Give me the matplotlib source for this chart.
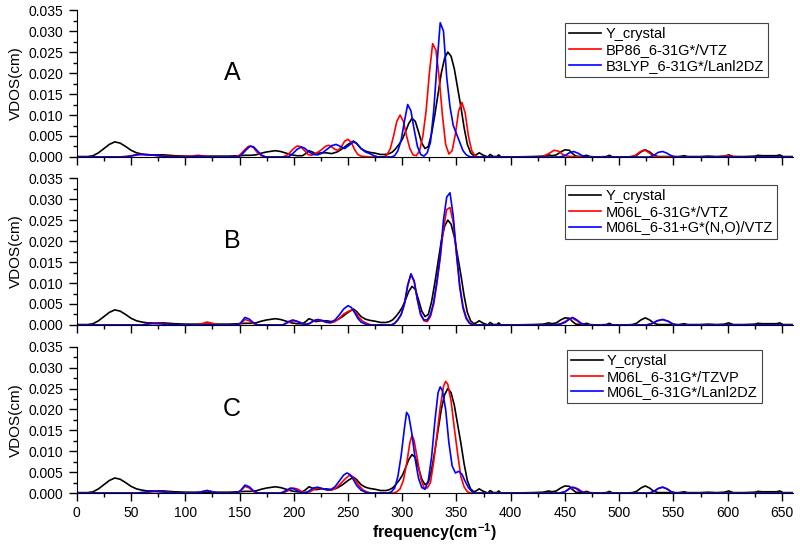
import numpy as np
import matplotlib
matplotlib.use('Agg')
import matplotlib.pyplot as plt
from matplotlib.ticker import MultipleLocator, FormatStrFormatter

plt.rcParams['font.family'] = ['Liberation Sans', 'DejaVu Sans']
plt.rcParams['mathtext.default'] = 'regular'

# VDOS values, in units of 1e-3 cm
# Y_crystal (same curve in all three panels)
crystal_f = [0, 10, 15, 20, 25, 30, 35, 40, 45, 50, 55, 60, 65, 70, 75, 80, 85, 90, 100, 110, 120, 130, 140,
             150, 155, 160, 165, 170, 175, 180, 183, 188, 193, 198, 203, 208, 211, 214, 217, 220, 225, 230,
             235, 240, 245, 250, 255, 258, 262, 266, 270, 275, 280, 285, 288, 291, 294, 297, 300, 303, 306,
             309, 312, 315, 318, 321, 324, 327, 330, 333, 336, 339, 342, 345, 348, 351, 354, 357, 360, 363,
             366, 368, 371, 374, 377, 379, 381, 384, 387, 389, 391, 400, 420, 430, 435, 438, 442, 446, 450,
             454, 457, 460, 465, 470, 473, 480, 488, 491, 494, 505, 512, 516, 520, 524, 528, 532, 536, 545,
             555, 560, 563, 575, 582, 590, 597, 601, 605, 615, 625, 628, 632, 640, 645, 648, 651, 660]
crystal_v = [0.1, 0.1, 0.3, 1.0, 2.0, 3.0, 3.6, 3.3, 2.5, 1.6, 1.0, 0.7, 0.5, 0.5, 0.5, 0.5, 0.4, 0.3, 0.2, 0.2,
             0.2, 0.2, 0.2, 0.3, 0.4, 0.4, 0.5, 0.9, 1.2, 1.4, 1.5, 1.3, 0.9, 0.5, 0.3, 0.3, 0.8, 1.5, 1.2,
             0.8, 1.0, 1.0, 0.8, 1.2, 2.0, 3.0, 3.8, 3.2, 2.0, 1.4, 1.1, 0.9, 0.6, 0.6, 0.8, 1.2, 2.0, 3.0,
             4.2, 6.0, 8.0, 9.2, 8.5, 6.0, 3.3, 2.0, 2.5, 5.5, 10.0, 15.0, 20.0, 23.5, 25.0, 24.0, 21.0, 16.5,
             12.0, 7.0, 3.0, 1.0, 0.3, 0.5, 1.0, 0.5, 0.2, 0.0, 0.6, 0.1, 0.1, 0.5, 0.0, 0.0, 0.1, 0.2, 0.5,
             0.3, 0.5, 1.2, 1.7, 1.6, 0.8, 0.2, 0.1, 0.4, 0.1, 0.0, 0.1, 0.4, 0.0, 0.0, 0.1, 0.4, 1.2, 1.7,
             1.2, 0.4, 0.1, 0.1, 0.1, 0.3, 0.1, 0.1, 0.2, 0.1, 0.2, 0.5, 0.1, 0.1, 0.2, 0.4, 0.3, 0.3, 0.3,
             0.5, 0.1, 0.1]

# panel A
bp86_f = [0, 40, 50, 55, 65, 75, 85, 100, 108, 112, 118, 125, 145, 150, 154, 158, 160, 163, 166, 170, 175,
          190, 195, 199, 203, 206, 210, 213, 216, 220, 225, 229, 232, 235, 238, 241, 244, 247, 250, 253, 256,
          259, 262, 270, 283, 286, 289, 292, 295, 298, 301, 304, 307, 310, 313, 316, 319, 322, 325, 328, 331,
          334, 337, 340, 343, 346, 349, 352, 355, 358, 361, 364, 367, 370, 425, 430, 435, 440, 444, 448, 452,
          456, 465, 510, 515, 519, 523, 527, 531, 535, 590, 595, 600, 605, 615, 660]
bp86_v = [0, 0, 0.3, 0.6, 0.6, 0.3, 0.1, 0.1, 0.3, 0.4, 0.2, 0, 0, 0.4, 1.5, 2.5, 2.6, 2.2, 1.2, 0.3, 0,
          0, 0.6, 1.8, 2.6, 2.5, 1.5, 0.6, 0.4, 0.8, 1.6, 2.5, 2.8, 2.4, 1.8, 1.6, 2.5, 3.8, 4.2, 3.5, 1.8,
          0.6, 0.2, 0, 0, 0.5, 2.0, 5.0, 8.5, 10.0, 8.5, 5.0, 2.0, 0.5, 0.3, 1.5, 5.0, 11.0, 20.0, 27.0, 25.5,
          19.0, 10.0, 3.0, 0.7, 1.5, 5.5, 11.0, 13.0, 10.5, 5.0, 1.5, 0.3, 0, 0, 0.2, 0.8, 1.6, 1.4, 0.6, 0.2,
          0.1, 0, 0, 0.4, 1.2, 1.7, 1.1, 0.3, 0, 0, 0.1, 0.3, 0.1, 0, 0]

b3lyp_f = [0, 45, 52, 58, 68, 76, 85, 105, 110, 115, 120, 148, 152, 156, 160, 163, 166, 170, 174, 195, 199,
           203, 207, 210, 214, 218, 222, 226, 231, 235, 239, 243, 247, 251, 255, 258, 262, 266, 270, 274, 278,
           290, 293, 296, 299, 302, 305, 308, 311, 314, 317, 320, 323, 326, 329, 332, 335, 338, 341, 344, 347,
           350, 353, 356, 359, 362, 365, 445, 450, 454, 458, 462, 466, 470, 528, 532, 536, 540, 544, 548, 552, 660]
b3lyp_v = [0, 0, 0.3, 0.6, 0.5, 0.3, 0, 0, 0.2, 0.2, 0, 0, 0.5, 1.7, 2.6, 2.4, 1.6, 0.5, 0, 0, 0.8, 1.8,
           2.4, 2.1, 1.2, 0.6, 0.5, 0.9, 1.9, 2.7, 3.0, 2.5, 2.0, 2.8, 3.6, 3.2, 2.0, 1.2, 0.8, 0.3, 0,
           0, 0.3, 1.5, 4.0, 8.5, 12.5, 11.0, 6.5, 2.5, 0.6, 0.2, 1.0, 3.5, 11.0, 22.0, 32.0, 30.0, 19.0,
           12.0, 7.5, 5.5, 3.5, 1.5, 0.5, 0.1, 0, 0, 0.3, 1.0, 1.3, 0.9, 0.3, 0, 0, 0.4, 1.1, 1.3, 0.9, 0.3,
           0, 0]

# panel B
m06l_vtz_f = [0, 60, 66, 72, 78, 85, 95, 110, 115, 120, 125, 130, 148, 152, 155, 159, 163, 167, 190, 195,
              200, 205, 210, 214, 218, 222, 226, 230, 234, 238, 242, 246, 250, 254, 257, 260, 264, 268, 272,
              290, 293, 296, 299, 302, 305, 308, 311, 314, 317, 320, 323, 326, 329, 332, 335, 338, 341, 344,
              347, 350, 353, 356, 359, 362, 365, 368, 440, 445, 450, 454, 457, 461, 465, 470, 525, 530, 535,
              540, 545, 549, 553, 660]
m06l_vtz_v = [0, 0, 0.3, 0.5, 0.4, 0.1, 0, 0, 0.3, 0.7, 0.4, 0, 0, 0.5, 1.3, 1.0, 0.3, 0, 0, 0.6, 1.0, 0.7,
              0.2, 0.3, 0.9, 1.2, 1.0, 0.6, 0.5, 0.8, 1.6, 2.6, 3.2, 3.6, 3.0, 1.8, 0.8, 0.3, 0,
              0, 0.4, 1.2, 2.5, 5.0, 9.3, 12.0, 10.3, 6.0, 2.5, 1.0, 0.8, 2.0, 5.0, 10.0, 16.0, 23.0, 27.5,
              28.0, 24.5, 17.0, 9.5, 4.5, 1.8, 0.5, 0.1, 0, 0, 0.2, 0.8, 1.4, 1.6, 1.0, 0.3, 0, 0, 0.3, 1.0,
              1.3, 0.9, 0.3, 0, 0]

m06l_diff_f = [0, 60, 68, 75, 85, 95, 148, 151, 155, 159, 163, 167, 190, 195, 199, 203, 207, 211, 215, 219,
               222, 226, 230, 234, 238, 242, 246, 250, 253, 256, 259, 262, 266, 270, 290, 293, 296, 299, 302,
               305, 308, 311, 314, 317, 320, 323, 326, 329, 332, 335, 338, 341, 344, 347, 350, 353, 356, 359,
               362, 365, 440, 446, 450, 454, 457, 461, 465, 470, 525, 530, 535, 540, 545, 549, 553, 660]
m06l_diff_v = [0, 0, 0.3, 0.3, 0.1, 0, 0, 0.5, 1.8, 1.4, 0.5, 0, 0, 0.8, 1.2, 0.9, 0.4, 0.1, 0.4, 1.1, 1.3,
               1.1, 0.7, 0.6, 1.2, 2.4, 3.8, 4.6, 4.2, 3.0, 1.6, 0.7, 0.2, 0, 0, 0.4, 1.3, 2.5, 5.0, 9.5,
               12.2, 10.5, 6.0, 2.5, 1.2, 1.2, 2.5, 5.5, 10.5, 16.5, 25.0, 30.5, 31.5, 26.0, 17.0, 9.0, 4.0,
               1.5, 0.4, 0, 0, 0.2, 0.6, 1.4, 1.8, 1.2, 0.4, 0, 0, 0.3, 1.0, 1.3, 0.9, 0.3, 0, 0]

# panel C
m06l_tzvp_f = [0, 60, 66, 72, 80, 88, 95, 110, 115, 120, 125, 130, 147, 151, 155, 159, 163, 167, 190, 195,
               199, 203, 207, 211, 215, 219, 223, 227, 231, 235, 239, 243, 247, 251, 254, 257, 260, 264, 268,
               272, 292, 295, 298, 301, 304, 307, 309, 311, 314, 317, 320, 323, 326, 329, 332, 335, 338, 340,
               342, 345, 348, 351, 354, 357, 360, 363, 445, 450, 454, 458, 462, 466, 470, 528, 532, 536, 540,
               544, 548, 552, 660]
m06l_tzvp_v = [0, 0, 0.2, 0.4, 0.3, 0.1, 0, 0, 0.3, 0.6, 0.3, 0, 0, 0.5, 1.6, 1.2, 0.3, 0, 0, 0.6, 1.2,
               1.0, 0.4, 0.1, 0.3, 0.9, 1.2, 1.0, 0.7, 0.7, 1.2, 2.2, 3.3, 4.2, 4.0, 3.0, 1.8, 0.7, 0.2, 0,
               0, 0.3, 1.0, 3.0, 7.0, 12.0, 13.8, 12.5, 8.0, 3.5, 1.3, 1.2, 2.5, 7.5, 14.0, 20.5, 25.5, 26.7,
               26.0, 22.0, 15.5, 9.5, 4.0, 1.5, 0.3, 0, 0, 0.3, 1.0, 1.4, 1.0, 0.3, 0, 0, 0.4, 1.1, 1.4, 1.0,
               0.3, 0, 0]

m06l_lanl_f = [0, 55, 62, 70, 78, 86, 95, 110, 115, 120, 125, 130, 147, 151, 155, 159, 163, 167, 188, 193,
               197, 201, 205, 209, 213, 218, 222, 226, 230, 234, 238, 242, 246, 249, 252, 255, 258, 262, 266,
               270, 287, 290, 293, 296, 299, 302, 304, 306, 309, 312, 315, 318, 321, 324, 327, 330, 333, 335,
               337, 340, 343, 346, 349, 352, 355, 358, 361, 364, 367, 445, 450, 453, 456, 460, 464, 468, 528,
               532, 536, 540, 544, 548, 552, 660]
m06l_lanl_v = [0, 0, 0.2, 0.4, 0.3, 0.1, 0, 0, 0.3, 0.6, 0.3, 0, 0, 0.6, 1.9, 1.5, 0.5, 0, 0, 0.6, 1.2, 0.9,
               0.3, 0, 0.3, 1.2, 1.4, 1.1, 0.8, 0.8, 1.5, 2.9, 4.3, 4.8, 4.4, 3.2, 1.8, 0.7, 0.2, 0,
               0, 0.3, 1.2, 4.0, 9.0, 15.5, 19.3, 18.5, 14.0, 8.0, 3.5, 1.3, 0.9, 3.0, 8.5, 17.0, 24.0, 25.4,
               24.5, 20.0, 12.0, 6.5, 4.8, 5.2, 4.5, 2.8, 1.3, 0.4, 0, 0, 0.3, 0.9, 1.4, 1.1, 0.4, 0, 0, 0.4,
               1.1, 1.4, 1.0, 0.3, 0, 0]

panel_letters = ['A', 'B', 'C']
panel_series = [
    [(bp86_f, bp86_v, 'BP86_6-31G*/VTZ'), (b3lyp_f, b3lyp_v, 'B3LYP_6-31G*/Lanl2DZ')],
    [(m06l_vtz_f, m06l_vtz_v, 'M06L_6-31G*/VTZ'), (m06l_diff_f, m06l_diff_v, 'M06L_6-31+G*(N,O)/VTZ')],
    [(m06l_tzvp_f, m06l_tzvp_v, 'M06L_6-31G*/TZVP'), (m06l_lanl_f, m06l_lanl_v, 'M06L_6-31G*/Lanl2DZ')],
]

fig = plt.figure(figsize=(8, 5.46), dpi=100)

# axes boxes in figure fraction (left, bottom, width, height)
boxes = [(0.096, 0.7125, 0.895, 0.269),
         (0.096, 0.4048, 0.895, 0.269),
         (0.096, 0.097, 0.895, 0.268)]
legend_anchor = [(0.682, 0.912), (0.682, 0.952), (0.684, 0.979)]

for i in range(3):
    ax = fig.add_axes(boxes[i])
    ax.plot(crystal_f, np.array(crystal_v) * 1e-3, color='black', lw=1.2, label='Y_crystal')
    red, blue = panel_series[i]
    ax.plot(red[0], np.array(red[1]) * 1e-3, color='#ff0000', lw=1.2, label=red[2])
    ax.plot(blue[0], np.array(blue[1]) * 1e-3, color='#0000ff', lw=1.2, label=blue[2])

    ax.set_xlim(0, 660)
    ax.set_ylim(0, 0.035)
    ax.spines['top'].set_visible(False)
    ax.spines['right'].set_visible(False)
    ax.xaxis.set_major_locator(MultipleLocator(50))
    ax.xaxis.set_minor_locator(MultipleLocator(25))
    ax.yaxis.set_major_locator(MultipleLocator(0.005))
    ax.yaxis.set_minor_locator(MultipleLocator(0.0025))
    ax.yaxis.set_major_formatter(FormatStrFormatter('%.3f'))
    ax.tick_params(which='major', direction='out', length=6, width=1, labelsize=10)
    ax.tick_params(which='minor', direction='out', length=3, width=1)
    if i < 2:
        ax.tick_params(axis='x', labelbottom=False)
    ax.set_ylabel('VDOS(cm)', fontsize=11, labelpad=4)

    ax.text(143, 0.020, panel_letters[i], fontsize=18, ha='center', va='center')

    leg = ax.legend(loc='upper left', bbox_to_anchor=legend_anchor[i], borderaxespad=0,
                    fontsize=10.5, frameon=True, fancybox=False, framealpha=1,
                    handlelength=2.2, labelspacing=0.12, borderpad=0.28, handletextpad=0.3)
    leg.get_frame().set_edgecolor('#444444')
    leg.get_frame().set_linewidth(0.8)

    if i == 2:
        ax.set_xlabel('frequency(cm$^{-1}$)', fontsize=11.5, fontweight='bold', labelpad=1)

fig.savefig('out.png', dpi=100)
